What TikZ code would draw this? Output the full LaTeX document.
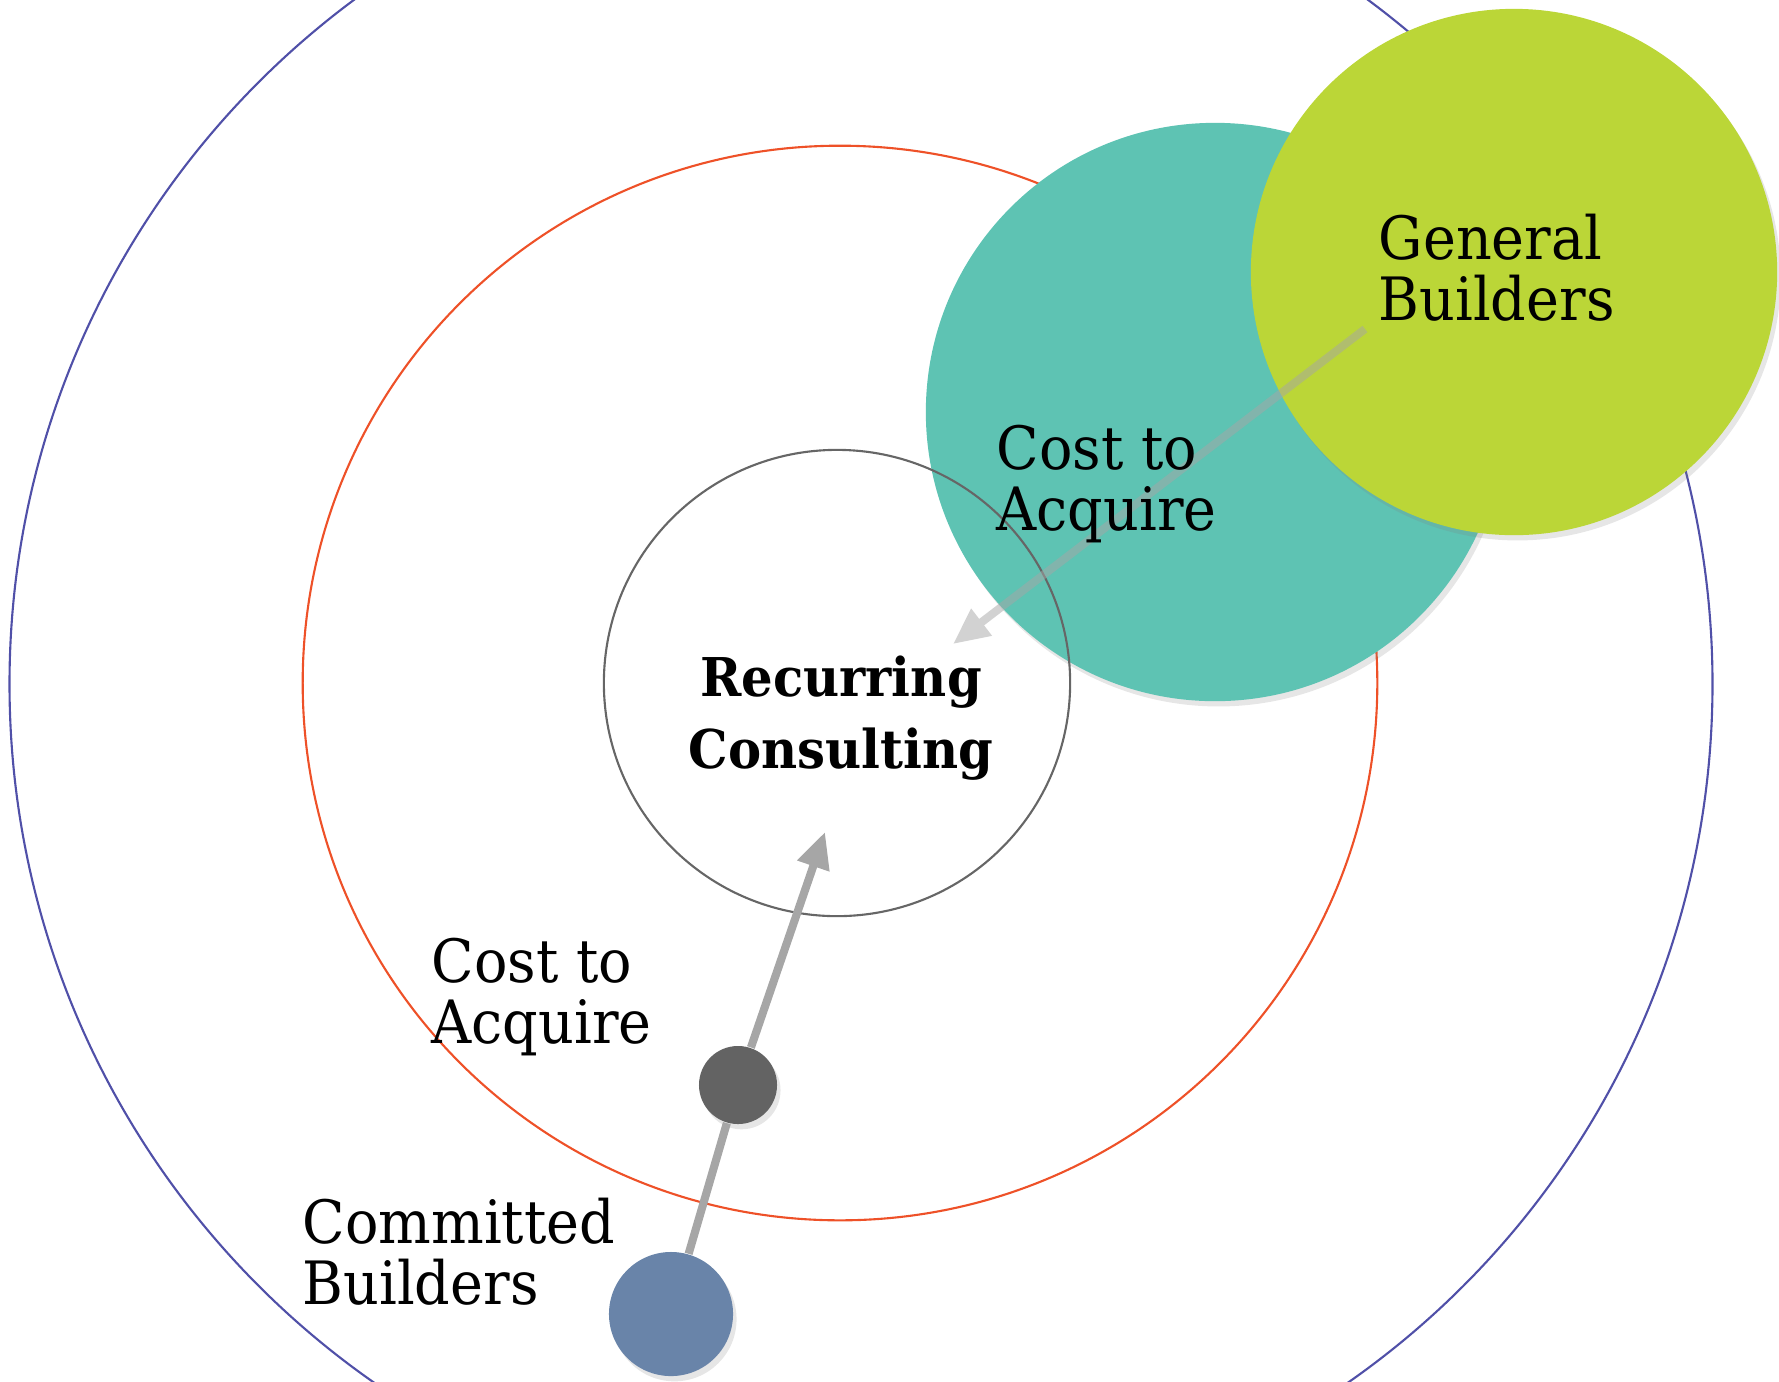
\documentclass[tikz,border=0pt]{standalone}
\usepackage{fontspec}
\setmainfont{DejaVu Serif}[FakeStretch=0.93]
\usetikzlibrary{arrows.meta,shadows}

\definecolor{ringblue}{HTML}{5050A8}
\definecolor{ringred}{HTML}{EE5128}
\definecolor{ringgray}{HTML}{666666}
\definecolor{tealfill}{HTML}{5EC3B3}
\definecolor{limefill}{HTML}{BBD637}
\definecolor{dotdark}{HTML}{636363}
\definecolor{dotblue}{HTML}{6984A9}
\definecolor{arrowgray}{HTML}{A6A6A6}

\begin{document}
\begin{tikzpicture}[
    x=0.01cm, y=-0.01cm,
    ring/.style={circle, draw, line width=0.6pt, inner sep=0pt},
    blob/.style={circle, inner sep=0pt, drop shadow={shadow xshift=1pt, shadow yshift=-1.5pt, opacity=0.2}},
    lbl/.style={font=\fontsize{17}{17.4}\selectfont, align=left, inner sep=0pt, anchor=west},
    flow/.style={line width=2.3pt, draw=arrowgray, -{Triangle[length=3.6mm, width=3.2mm]}}
]
\useasboundingbox (0,0) rectangle (1779,1381);

% rings round the core
\node[ring, draw=ringblue, minimum size=170.2mm] (outer)  at (861,684) {};
\node[ring, draw=ringred,  minimum size=107.4mm] (middle) at (840,683) {};

% acquisition circles
\node[blob, fill=tealfill, minimum size=57.8mm] (cac)     at (1215,412) {};
\node[blob, fill=limefill, minimum size=52.6mm] (general) at (1514,272) {};

\node[ring, draw=ringgray, minimum size=46.6mm] (core) at (837,683) {};

% builders moving inwards
\node[blob, fill=dotdark, minimum size=7.8mm]  (costdot)   at (738,1085) {};
\node[blob, fill=dotblue, minimum size=12.4mm] (committed) at (671,1314) {};

\coordinate (coretip) at (825,832);
\coordinate (gentail) at (1365,329);
\coordinate (gentip)  at (953,644);

\draw[line width=2.3pt, draw=arrowgray] (committed) -- (costdot);
\draw[flow] (costdot) -- (coretip);
\begin{scope}[transparency group, opacity=0.5]
  \draw[flow] (gentail) -- (gentip);
\end{scope}

% labels
\node[lbl] (genlbl)    at (1378,268)  {General\\Builders};
\node[lbl] (caclbl)    at (996,484)   {Cost to\\Acquire};
\node[lbl] (costlbl)   at (431,997)   {Cost to\\Acquire};
\node[lbl] (commitlbl) at (302,1252)  {Committed\\Builders};
\node[lbl, anchor=center, align=center, font=\fontsize{15.2}{20.5}\selectfont\bfseries]
    (corelbl) at (841,718) {Recurring\\Consulting};

\end{tikzpicture}
\end{document}
